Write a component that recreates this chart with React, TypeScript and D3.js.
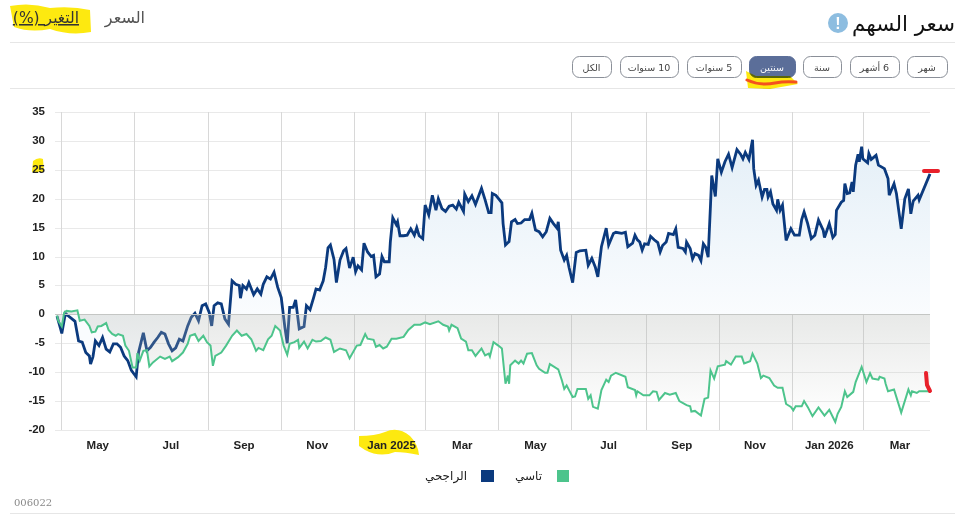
import * as d3 from 'd3'

const WIDTH = 962
const HEIGHT = 516

const START_DATE = new Date(2024, 3, 28)
const Y_TICKS = [35, 30, 25, 20, 15, 10, 5, 0, -5, -10, -15, -20]
const TICK_MONTHS = [
  new Date(2024, 4, 1), new Date(2024, 6, 1), new Date(2024, 8, 1), new Date(2024, 10, 1),
  new Date(2025, 0, 1), new Date(2025, 2, 1), new Date(2025, 4, 1), new Date(2025, 6, 1),
  new Date(2025, 8, 1), new Date(2025, 10, 1), new Date(2026, 0, 1), new Date(2026, 2, 1),
]
const TICK_LABELS = ['May', 'Jul', 'Sep', 'Nov', 'Jan 2025', 'Mar', 'May', 'Jul', 'Sep', 'Nov', 'Jan 2026', 'Mar']
const RANGE_BUTTONS = ['شهر', '6 أشهر', 'سنة', 'سنتين', '5 سنوات', '10 سنوات', 'الكل']
const ACTIVE_BUTTON = 'سنتين'

// days since START_DATE
const stockDays = [
  0, 3, 4, 7, 9, 12, 15, 18, 21, 24, 27, 28, 30, 32, 35, 38, 41, 44, 47, 50,
  53, 56, 59, 62, 66, 68, 72, 75, 78, 81, 84, 87, 90, 93, 96, 99, 102, 105, 109, 112,
  115, 118, 121, 124, 127, 129, 131, 134, 137, 140, 143, 146, 149, 152, 153, 155, 158, 160, 164, 167,
  170, 172, 175, 178, 181, 184, 187, 190, 192, 194, 197, 199, 202, 206, 208, 211, 214, 216, 219, 222,
  224, 226, 228, 231, 233, 236, 239, 241, 244, 247, 249, 251, 254, 256, 259, 262, 264, 266, 269, 271,
  273, 277, 278, 280, 283, 284, 286, 289, 292, 295, 298, 300, 302, 305, 307, 310, 313, 316, 318, 321,
  324, 327, 330, 333, 335, 339, 340, 343, 346, 349, 354, 357, 360, 362, 363, 366, 371, 372, 374, 377,
  379, 382, 384, 387, 390, 394, 396, 399, 402, 405, 408, 411, 414, 417, 418, 420, 423, 425, 427, 430,
  433, 436, 441, 443, 446, 449, 451, 454, 458, 460, 464, 466, 471, 474, 476, 480, 482, 484, 486, 488,
  490, 493, 495, 498, 501, 503, 505, 508, 510, 514, 516, 518, 522, 524, 525, 528, 530, 532, 535, 537,
  539, 541, 543, 545, 546, 549, 551, 554, 557, 560, 563, 567, 570, 572, 574, 577, 580, 581, 583, 585,
  588, 590, 592, 593, 595, 597, 600, 601, 603, 605, 608, 612, 615, 619, 621, 623, 626, 629, 632, 635,
  639, 640, 644, 647, 649, 650, 654, 656, 657, 659, 661, 663, 664, 666, 668, 669, 671, 672, 676, 677,
  679, 683, 685, 690, 693, 694, 698, 700, 704, 707, 710, 712, 714, 718, 719, 728,
]
const stockValues = [
  -0.3, -2.5, -3.3, 0.2, -0.2, -0.7, -1.2, -4.6, -4.8, -6.6, -7.2, -8.6, -7.3, -4.6, -5.4, -4, -6, -6.5, -5.1, -5.1,
  -5.7, -7.2, -8, -9.7, -10.8, -6.6, -3.2, -6.3, -5.7, -4.8, -4, -3.1, -3.4, -5.1, -6.3, -5.8, -4.3, -4.6, -2, -0.5,
  0.2, -1.1, 1.5, 1.8, 0.3, -2, 1.5, 2, 1.8, -0.8, -1.7, 5.8, 5.2, 5, 2.8, 5, 4.4, 5.5, 3.4, 4.4,
  3.5, 5.2, 6.5, 6.1, 7.3, 4.7, 2.9, -2.2, -5, 1.2, 1.2, 2.5, -2.5, -2.1, 1.5, 0.8, 2.9, 4.4, 4.2, 5.8,
  8.1, 11.5, 12, 9.5, 5.5, 9.4, 11, 11.4, 8, 9.9, 7.4, 8.4, 7.7, 12.3, 10.8, 10, 10.2, 6.5, 7, 10,
  9.1, 9.1, 12.6, 16.7, 15.5, 16, 13.6, 13.6, 13.7, 14.8, 13.7, 15, 13.6, 13.1, 18.9, 17.2, 20.6, 18, 20, 18.3,
  17.8, 18.7, 18.9, 18.2, 19.4, 17.8, 20.8, 19.5, 20.5, 19, 21.8, 19.8, 17.6, 17.6, 20.9, 20.6, 19.3, 15.7, 12, 12.6,
  16, 16.4, 15.7, 15.8, 16.4, 16.4, 17.5, 14.6, 14.3, 13.4, 14.3, 16.6, 15.7, 14.9, 16, 11.1, 9.4, 10.2, 8.1, 5.5,
  10.7, 11, 11.1, 8.5, 9.7, 8.1, 6.5, 11.7, 14.9, 12, 14, 14.2, 14, 14.2, 11.7, 12.3, 13.7, 12.9, 12.5, 11.1,
  12.2, 12.1, 13.5, 12.9, 12.4, 10.8, 11.9, 12.5, 14, 13.8, 14.8, 11.6, 11.4, 10.8, 12.5, 11.4, 9.6, 10.5, 10.2, 9.3,
  12.2, 11.6, 9.9, 19.1, 24, 20.4, 26.9, 24.6, 26.4, 27.7, 25.4, 28.5, 27.7, 26.9, 28, 26.8, 30.2, 25.2, 22.3, 23.2,
  20.3, 21.6, 21.6, 20.3, 21.2, 19.1, 18, 19.9, 18, 18.9, 12.8, 14.8, 13.7, 13.7, 16.4, 17.7, 15.7, 13.1, 13.7, 16.3,
  14.5, 13.3, 15.7, 13.3, 13.8, 18, 19.4, 19.7, 22.6, 20.9, 21, 22.9, 21.2, 25.8, 27.7, 26.4, 29, 26.9, 26.2, 27.8,
  26.8, 27.5, 25.8, 25.2, 23.5, 20.6, 22.6, 20.9, 14.8, 20, 21.7, 17.4, 19.6, 20.6, 19.8, 24.3,
]

const indexDays = [
  0, 1, 4, 6, 8, 12, 17, 19, 23, 27, 29, 32, 34, 37, 41, 43, 46, 49, 51, 55,
  57, 60, 63, 66, 67, 69, 72, 75, 77, 80, 86, 90, 94, 96, 101, 105, 109, 111, 115, 118,
  122, 125, 128, 130, 132, 137, 141, 146, 150, 154, 158, 162, 166, 168, 172, 176, 179, 182, 186, 189,
  192, 194, 198, 201, 202, 206, 209, 213, 216, 220, 224, 228, 231, 236, 241, 244, 250, 253, 257, 259,
  264, 266, 269, 272, 275, 279, 283, 289, 293, 298, 303, 307, 311, 318, 322, 326, 327, 329, 334, 337,
  341, 343, 346, 349, 354, 357, 360, 361, 364, 368, 371, 374, 376, 377, 378, 382, 385, 387, 389, 392,
  396, 400, 402, 407, 409, 411, 418, 421, 423, 425, 427, 430, 432, 434, 441, 443, 445, 447, 451, 454,
  458, 460, 462, 466, 474, 476, 482, 483, 484, 489, 494, 497, 500, 502, 507, 511, 516, 519, 525, 528,
  529, 532, 537, 540, 543, 545, 548, 551, 557, 558, 562, 566, 571, 573, 578, 580, 584, 587, 589, 594,
  598, 601, 605, 608, 612, 614, 616, 621, 623, 626, 630, 635, 640, 644, 649, 651, 654, 657, 659, 664,
  666, 671, 675, 678, 680, 685, 686, 690, 691, 693, 698, 704, 710, 712, 713, 717, 719, 728,
]
const indexValues = [
  -0.2, -1.1, -2.1, 0.3, 0.6, 0.5, 0.7, -1.1, -0.9, -2, -3.1, -3, -2.1, -2, -1.5, -2.7, -3.4, -3.7, -3.4, -3.7,
  -5.4, -6.3, -9.2, -9.2, -6.7, -8, -6.3, -6.2, -9, -8.3, -7.3, -7.7, -7.3, -8.1, -7.4, -6.6, -5.1, -3.7, -3.4, -4.6,
  -3.7, -4.8, -5.4, -8.9, -7.2, -6.6, -5.4, -3.7, -2.8, -3.7, -3.4, -4.3, -6.3, -5.8, -6.2, -4.3, -3.7, -2, -2.8, -5.4,
  -7, -5.1, -4.8, -4.4, -5.8, -4.7, -5.9, -4.4, -4.7, -4.6, -4, -4.4, -6.5, -5.9, -6.2, -7.6, -5.4, -5.3, -3.4, -4.2,
  -4.4, -5.6, -5.3, -5.9, -5.6, -4.2, -4.2, -3.9, -2.7, -1.8, -1.8, -1.4, -1.7, -1.2, -1.8, -2.1, -2.8, -1.8, -2.4, -4.2,
  -4.7, -6.2, -6.2, -7.2, -5.9, -7.1, -6.8, -7.3, -4.8, -5.4, -5.9, -12, -10.6, -12, -8.8, -8, -8.5, -8, -8.5, -6.8,
  -6.7, -8.8, -9.4, -10.1, -10.1, -8.6, -9.5, -11.4, -12.9, -12.3, -13.1, -14.3, -14.2, -12.9, -12.9, -14.6, -14, -16, -16.3, -13.1,
  -11.3, -11.7, -10.6, -10.1, -10.8, -12.6, -13.1, -14, -13.3, -14, -14, -13.3, -13.4, -14.8, -13.6, -13.9, -13.6, -15, -15.7, -15.9,
  -16.8, -16.7, -17.5, -14.6, -14.4, -9.7, -11.1, -9, -8.7, -8.1, -8.7, -7.3, -7.3, -8.5, -8.1, -6.8, -8.5, -11, -10.6, -11,
  -12.3, -12.7, -12.7, -15.5, -16, -16.6, -15.9, -15.9, -15, -16, -17.6, -16.1, -17.5, -16.5, -18.6, -17.2, -16, -13.3, -14.3, -13.4,
  -11.7, -9.1, -11.7, -10.2, -11.1, -11.3, -10.8, -11.1, -12, -13.3, -13, -17, -13, -14, -13.3, -13.6, -13.3, -13.3,
]

const ARIAL = '"Liberation Sans", Arial, sans-serif'
const ARABIC = '"DejaVu Sans", sans-serif'

type Point = { date: Date; value: number }

const toPoints = (days: number[], values: number[]): Point[] =>
  days.map((d, i) => ({ date: d3.timeDay.offset(START_DATE, d), value: values[i] }))

export default function App() {
  const stock = toPoints(stockDays, stockValues)
  const index = toPoints(indexDays, indexValues)

  const x = d3.scaleTime()
    .domain([START_DATE, d3.timeDay.offset(START_DATE, 728)])
    .range([57, 930])
  const y = d3.scaleLinear().domain([-20, 35]).range([430, 112])

  const line = d3.line<Point>().x(d => x(d.date)).y(d => y(d.value))
  const area = d3.area<Point>().x(d => x(d.date)).y0(y(0)).y1(d => y(d.value))

  // button boxes, right to left
  const buttonBoxes = [[907, 947], [850, 899], [803, 841], [749, 795], [687, 741], [620, 678], [572, 611]]

  return (
    <svg
      width={WIDTH}
      height={HEIGHT}
      style={{ position: 'absolute', left: 0, top: 0, background: '#fff' }}
    >
      <defs>
        <linearGradient id="stockFill" gradientUnits="userSpaceOnUse" x1="0" x2="0" y1={y(30)} y2={y(0)}>
          <stop offset="0" stopColor="#e4eff7" />
          <stop offset="1" stopColor="#fafcfe" />
        </linearGradient>
        <linearGradient id="indexFill" gradientUnits="userSpaceOnUse" x1="0" x2="0" y1={y(0)} y2={y(-18)}>
          <stop offset="0" stopColor="#b2b6b2" stopOpacity={0.3} />
          <stop offset="1" stopColor="#b2b6b2" stopOpacity={0} />
        </linearGradient>
      </defs>

      {/* header, rtl text so anchor start is the right edge */}
      <text x={955} y={31} textAnchor="start" direction="rtl" fontFamily={ARABIC} fontSize={21.5} fill="#111">
        سعر السهم
      </text>
      <circle cx={838} cy={23} r={10} fill="#8dbde0" />
      <text x={838} y={29} textAnchor="middle" fontFamily={ARIAL} fontWeight="bold" fontSize={16} fill="#fff">!</text>
      <text x={145} y={23} textAnchor="start" direction="rtl" fontFamily={ARABIC} fontSize={16} fill="#555">السعر</text>

      {/* highlighter strokes sit under the tab text */}
      <path
        d="M10 6 Q30 2 50 8 Q72 6 90 10 L91 32 Q70 36 50 29 Q30 33 14 27 Z"
        fill="#fde910"
      />
      <text
        x={79}
        y={23}
        textAnchor="start"
        direction="rtl"
        fontFamily={ARABIC}
        fontSize={15.5}
        fill="#333"
        textDecoration="underline"
      >
        التغير (%)
      </text>

      <g stroke="#e6e6e6" strokeWidth={1}>
        <line x1={10} x2={955} y1={42.5} y2={42.5} />
        <line x1={10} x2={955} y1={88.5} y2={88.5} />
        <line x1={10} x2={955} y1={513.5} y2={513.5} />
      </g>

      {/* range buttons */}
      {RANGE_BUTTONS.map((label, i) => {
        const [x0, x1] = buttonBoxes[i]
        const active = label === ACTIVE_BUTTON
        return (
          <g key={label}>
            <rect
              x={x0 + 0.5}
              y={56.5}
              width={x1 - x0}
              height={21}
              rx={7}
              fill={active ? '#5b6e99' : '#fff'}
              stroke={active ? '#5b6e99' : '#8a8f98'}
            />
            <text
              x={(x0 + x1) / 2}
              y={71}
              textAnchor="middle"
              direction="rtl"
              fontFamily={ARABIC}
              fontSize={9.5}
              fill={active ? '#fff' : '#444'}
            >
              {label}
            </text>
          </g>
        )
      })}

      {/* grid */}
      {Y_TICKS.map(t => (
        <line key={t} x1={55} x2={930} y1={Math.round(y(t)) + 0.5} y2={Math.round(y(t)) + 0.5} stroke="#e9e9e9" />
      ))}
      {TICK_MONTHS.map(t => (
        <line
          key={t.getTime()}
          x1={Math.round(x(t)) + 0.5}
          x2={Math.round(x(t)) + 0.5}
          y1={112}
          y2={430}
          stroke="#d8d8d8"
        />
      ))}

      {/* series */}
      <path d={area(stock) ?? ''} fill="url(#stockFill)" />
      <path d={line(stock) ?? ''} fill="none" stroke="#0b3a7e" strokeWidth={2.8} />
      <path d={area(index) ?? ''} fill="url(#indexFill)" />
      <line x1={55} x2={930} y1={Math.round(y(0)) + 0.5} y2={Math.round(y(0)) + 0.5} stroke="#c4c6c4" />
      <path d={line(index) ?? ''} fill="none" stroke="#4dc48c" strokeWidth={2} />

      {/* highlighter under axis labels */}
      <path d="M33 161 Q38 157 43 159 L44 172 L32 172 Z" fill="#fde910" />
      <path
        d="M359 436 Q375 436 385 432 Q398 426 410 436 Q418 444 419 455 Q405 452 395 452 Q380 458 365 450 L359 446 Z"
        fill="#fde910"
      />

      {/* axes, label sits in the middle of the two month tick interval */}
      {Y_TICKS.map(t => (
        <text
          key={t}
          x={45}
          y={y(t) + 3}
          textAnchor="end"
          fontFamily={ARIAL}
          fontWeight="bold"
          fontSize={11.5}
          fill="#222"
        >
          {t}
        </text>
      ))}
      {TICK_MONTHS.map((t, i) => (
        <text
          key={t.getTime()}
          x={x(d3.timeMonth.offset(t, 1))}
          y={449}
          textAnchor="middle"
          fontFamily={ARIAL}
          fontWeight="bold"
          fontSize={11.5}
          fill="#222"
        >
          {TICK_LABELS[i]}
        </text>
      ))}

      {/* legend */}
      <rect x={557} y={470} width={12} height={12} fill="#4dc48c" />
      <text x={542} y={480} textAnchor="start" direction="rtl" fontFamily={ARABIC} fontSize={12} fill="#222">تاسي</text>
      <rect x={481} y={470} width={13} height={12} fill="#0b3a7e" />
      <text x={467} y={480} textAnchor="start" direction="rtl" fontFamily={ARABIC} fontSize={12} fill="#222">الراجحي</text>

      <text x={14} y={506} fontFamily='"DejaVu Serif", serif' fontSize={10} fill="#888">006022</text>

      {/* hand-drawn marks on the screenshot */}
      <path
        d="M746 71 L756 76 L790 76 L798 84 L770 89 L748 88 Z"
        fill="#fde910"
        style={{ mixBlendMode: 'multiply' }}
      />
      <path d="M747 80 Q760 86 775 83 Q785 81 796 82" fill="none" stroke="#f4511e" strokeWidth={3} strokeLinecap="round" />
      <path d="M924 171 L938 171" fill="none" stroke="#e8202a" strokeWidth={4} strokeLinecap="round" />
      <path d="M926 373 L927 385 L930 391" fill="none" stroke="#e8202a" strokeWidth={4} strokeLinecap="round" />
    </svg>
  )
}
